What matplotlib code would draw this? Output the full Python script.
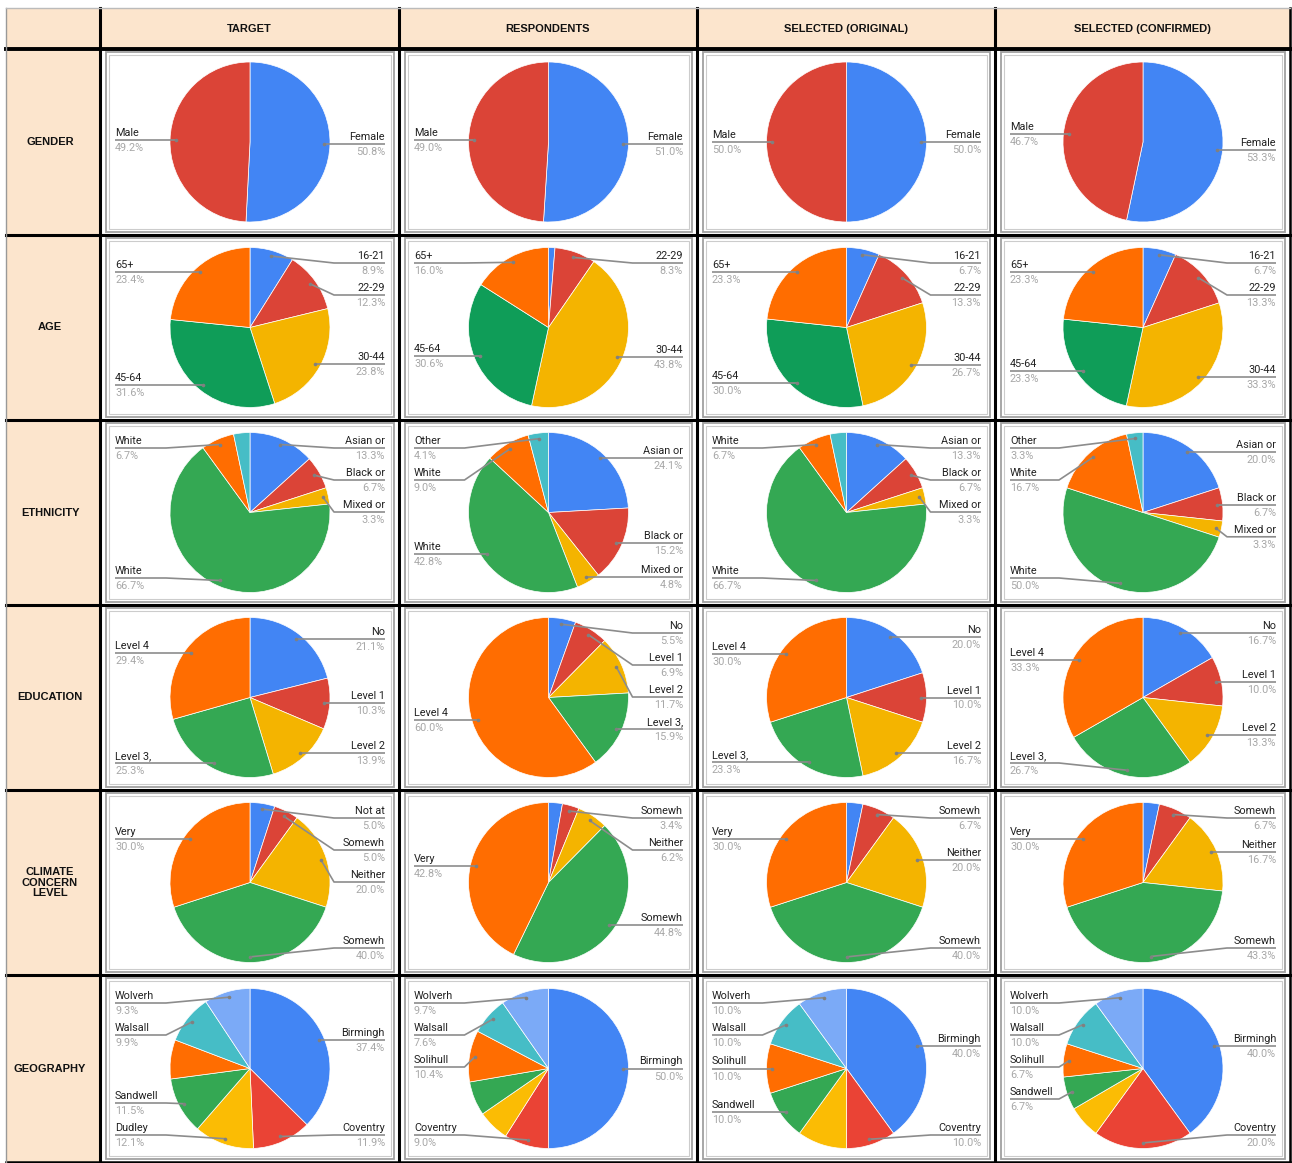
import matplotlib
matplotlib.use('Agg')
import matplotlib.pyplot as plt
from matplotlib.patches import Rectangle
import numpy as np

W, H = 1292, 1163

# ---------------- data ----------------
columns = ["TARGET", "RESPONDENTS", "SELECTED (ORIGINAL)", "SELECTED (CONFIRMED)"]
row_titles = ["GENDER", "AGE", "ETHNICITY", "EDUCATION", "CLIMATE\nCONCERN\nLEVEL", "GEOGRAPHY"]

gender_labels = ["Female", "Male"]
gender_target = [50.8, 49.2]
gender_respondents = [51.0, 49.0]
gender_sel_original = [50.0, 50.0]
gender_sel_confirmed = [53.3, 46.7]
gender_hidden = [[], [], [], []]

age_labels = ["16-21", "22-29", "30-44", "45-64", "65+"]
age_target = [8.9, 12.3, 23.8, 31.6, 23.4]
age_respondents = [1.3, 8.3, 43.8, 30.6, 16.0]
age_sel_original = [6.7, 13.3, 26.7, 30.0, 23.3]
age_sel_confirmed = [6.7, 13.3, 33.3, 23.3, 23.3]
age_hidden = [[], [0], [], []]

eth_labels = ["Asian or", "Black or", "Mixed or", "White", "White", "Other"]
eth_target = [13.3, 6.7, 3.3, 66.7, 6.7, 3.3]
eth_respondents = [24.1, 15.2, 4.8, 42.8, 9.0, 4.1]
eth_sel_original = [13.3, 6.7, 3.3, 66.7, 6.7, 3.3]
eth_sel_confirmed = [20.0, 6.7, 3.3, 50.0, 16.7, 3.3]
eth_hidden = [[5], [], [5], []]

edu_labels = ["No", "Level 1", "Level 2", "Level 3,", "Level 4"]
edu_target = [21.1, 10.3, 13.9, 25.3, 29.4]
edu_respondents = [5.5, 6.9, 11.7, 15.9, 60.0]
edu_sel_original = [20.0, 10.0, 16.7, 23.3, 30.0]
edu_sel_confirmed = [16.7, 10.0, 13.3, 26.7, 33.3]
edu_hidden = [[], [], [], []]

clim_labels = ["Not at", "Somewh", "Neither", "Somewh", "Very"]
clim_target = [5.0, 5.0, 20.0, 40.0, 30.0]
clim_respondents = [2.8, 3.4, 6.2, 44.8, 42.8]
clim_sel_original = [3.3, 6.7, 20.0, 40.0, 30.0]
clim_sel_confirmed = [3.3, 6.7, 16.7, 43.3, 30.0]
clim_hidden = [[], [0], [0], [0]]

geo_labels = ["Birmingh", "Coventry", "Dudley", "Sandwell", "Solihull", "Walsall", "Wolverh"]
geo_target = [37.4, 11.9, 12.1, 11.5, 7.9, 9.9, 9.3]
geo_respondents = [50.0, 9.0, 6.4, 6.9, 10.4, 7.6, 9.7]
geo_sel_original = [40.0, 10.0, 10.0, 10.0, 10.0, 10.0, 10.0]
geo_sel_confirmed = [40.0, 20.0, 6.6, 6.7, 6.7, 10.0, 10.0]
geo_hidden = [[4], [2, 3], [2], [2]]

pal_old = ['#4285F4', '#DB4437', '#F4B400', '#0F9D58', '#FF6D00']
pal_new = ['#4285F4', '#DB4437', '#F4B400', '#34A853', '#FF6D01', '#46BDC6', '#7BAAF7']
pal_geo = ['#4285F4', '#EA4335', '#FBBC04', '#34A853', '#FF6D01', '#46BDC6', '#7BAAF7']

table = [
    (gender_labels, [gender_target, gender_respondents, gender_sel_original, gender_sel_confirmed], gender_hidden, pal_old),
    (age_labels, [age_target, age_respondents, age_sel_original, age_sel_confirmed], age_hidden, pal_old),
    (eth_labels, [eth_target, eth_respondents, eth_sel_original, eth_sel_confirmed], eth_hidden, pal_new),
    (edu_labels, [edu_target, edu_respondents, edu_sel_original, edu_sel_confirmed], edu_hidden, pal_new),
    (clim_labels, [clim_target, clim_respondents, clim_sel_original, clim_sel_confirmed], clim_hidden, pal_new),
    (geo_labels, [geo_target, geo_respondents, geo_sel_original, geo_sel_confirmed], geo_hidden, pal_geo),
]

# ---------------- layout ----------------
col_edges = [6, 100, 399, 697, 995, 1290]
row_edges = [8, 49, 235, 420, 605, 790, 975, 1162]
R = 80
HEAD_FONT = ['Liberation Sans Narrow', 'Liberation Sans', 'DejaVu Sans']
LAB_FONT = ['Roboto', 'DejaVu Sans']

fig = plt.figure(figsize=(W / 100, H / 100), dpi=100)
bg = fig.add_axes([0, 0, 1, 1], zorder=0)
bg.set_xlim(0, W); bg.set_ylim(H, 0); bg.axis('off')
ov = fig.add_axes([0, 0, 1, 1], zorder=5)
ov.set_xlim(0, W); ov.set_ylim(H, 0); ov.axis('off'); ov.patch.set_alpha(0)

beige = '#FCE5CD'
bg.add_patch(Rectangle((col_edges[0], row_edges[0]), col_edges[-1] - col_edges[0], row_edges[1] - row_edges[0],
                       facecolor=beige, edgecolor='none'))
bg.add_patch(Rectangle((col_edges[0], row_edges[1]), col_edges[1] - col_edges[0], row_edges[-1] - row_edges[1],
                       facecolor=beige, edgecolor='none'))

for j, name in enumerate(columns):
    bg.text((col_edges[j + 1] + col_edges[j + 2]) / 2, (row_edges[0] + row_edges[1]) / 2 + 1, name,
            ha='center', va='center', fontsize=8, fontweight='bold', family=HEAD_FONT, color='#111')
for i, name in enumerate(row_titles):
    bg.text((col_edges[0] + col_edges[1]) / 2 - 3, (row_edges[i + 1] + row_edges[i + 2]) / 2, name,
            ha='center', va='center', fontsize=8, fontweight='bold', family=HEAD_FONT, color='#111',
            linespacing=1.1)


def spread(ys, top, bottom, gap=32):
    out = []
    for y in ys:
        y = max(y, top)
        if out:
            y = max(y, out[-1] + gap)
        out.append(y)
    for k in range(len(out) - 1, -1, -1):
        lim = bottom if k == len(out) - 1 else out[k + 1] - gap
        out[k] = min(out[k], lim)
    return out


for i, (labels, series, hidden, pal) in enumerate(table):
    y0, y1 = row_edges[i + 1], row_edges[i + 2]
    for j, vals in enumerate(series):
        x0, x1 = col_edges[j + 1], col_edges[j + 2]
        bx0, bx1 = x0 + 6, x1 - 5
        by0, by1 = y0 + 3, y1 - 3
        bg.add_patch(Rectangle((bx0, by0), bx1 - bx0, by1 - by0, facecolor='white',
                               edgecolor='#a0a0a0', lw=1.3))
        bg.add_patch(Rectangle((bx0 + 3, by0 + 3), bx1 - bx0 - 6, by1 - by0 - 6, facecolor='none',
                               edgecolor='#cccccc', lw=0.8))
        cx = (bx0 + bx1) / 2
        cy = (by0 + by1) / 2
        ax = fig.add_axes([(cx - R) / W, 1 - (cy + R) / H, 2 * R / W, 2 * R / H], zorder=2)
        ax.pie(vals, colors=pal[:len(vals)], startangle=90, counterclock=False, radius=1,
               wedgeprops=dict(edgecolor='white', linewidth=0.5))
        ax.set_xlim(-1, 1); ax.set_ylim(-1, 1); ax.axis('off')

        total = float(sum(vals))
        cum = np.cumsum([0] + list(vals))
        right, left = [], []
        for k, v in enumerate(vals):
            if k in hidden[j]:
                continue
            mid = (cum[k] + v / 2) / total
            th = 2 * np.pi * mid
            dx = cx + 0.93 * R * np.sin(th)
            dy = cy - 0.93 * R * np.cos(th)
            item = (dy, dx, labels[k], v)
            (right if mid <= 0.5 + 1e-9 else left).append(item)
        for side, items in (('r', right), ('l', left)):
            items.sort()
            ys = spread([it[0] for it in items], by0 + 25, by1 - 24)
            for (dy, dx, lab, v), ly in zip(items, ys):
                if side == 'r':
                    xe = bx1 - 9
                    xk = cx + R + 4
                    ha = 'right'
                else:
                    xe = bx0 + 9
                    xk = cx - R - 4
                    ha = 'left'
                ov.plot([dx, xk, xe], [dy, ly, ly], color='#8c8c8c', lw=1.2, solid_capstyle='butt')
                ov.plot([dx], [dy], 'o', ms=2.6, color='#808080', mec='none')
                ov.text(xe, ly - 2, lab, ha=ha, va='bottom', fontsize=7.8, color='#222222', family=LAB_FONT)
                ov.text(xe, ly + 3, f"{v:.1f}%", ha=ha, va='top', fontsize=7.8, color='#a8a8a8',
                        family=LAB_FONT)

# grid lines
for x in col_edges[1:-1]:
    bg.plot([x, x], [row_edges[0], row_edges[-1]], color='black', lw=2.2, zorder=3)
for y in row_edges[2:-1]:
    bg.plot([col_edges[0], col_edges[-1]], [y, y], color='black', lw=2.2, zorder=3)
bg.plot([col_edges[0], col_edges[-1]], [row_edges[1], row_edges[1]], color='black', lw=2.8, zorder=3)
bg.plot([col_edges[-1], col_edges[-1]], [row_edges[0], row_edges[-1]], color='black', lw=1.8, zorder=3)
bg.plot([col_edges[0], col_edges[-1]], [row_edges[-1], row_edges[-1]], color='black', lw=1.8, zorder=3)
bg.plot([col_edges[0], col_edges[0]], [row_edges[0], row_edges[-1]], color='#999999', lw=1.0, zorder=3)
bg.plot([col_edges[0], col_edges[-1]], [row_edges[0], row_edges[0]], color='#bbbbbb', lw=1.0, zorder=3)

fig.savefig('out.png', dpi=100)
